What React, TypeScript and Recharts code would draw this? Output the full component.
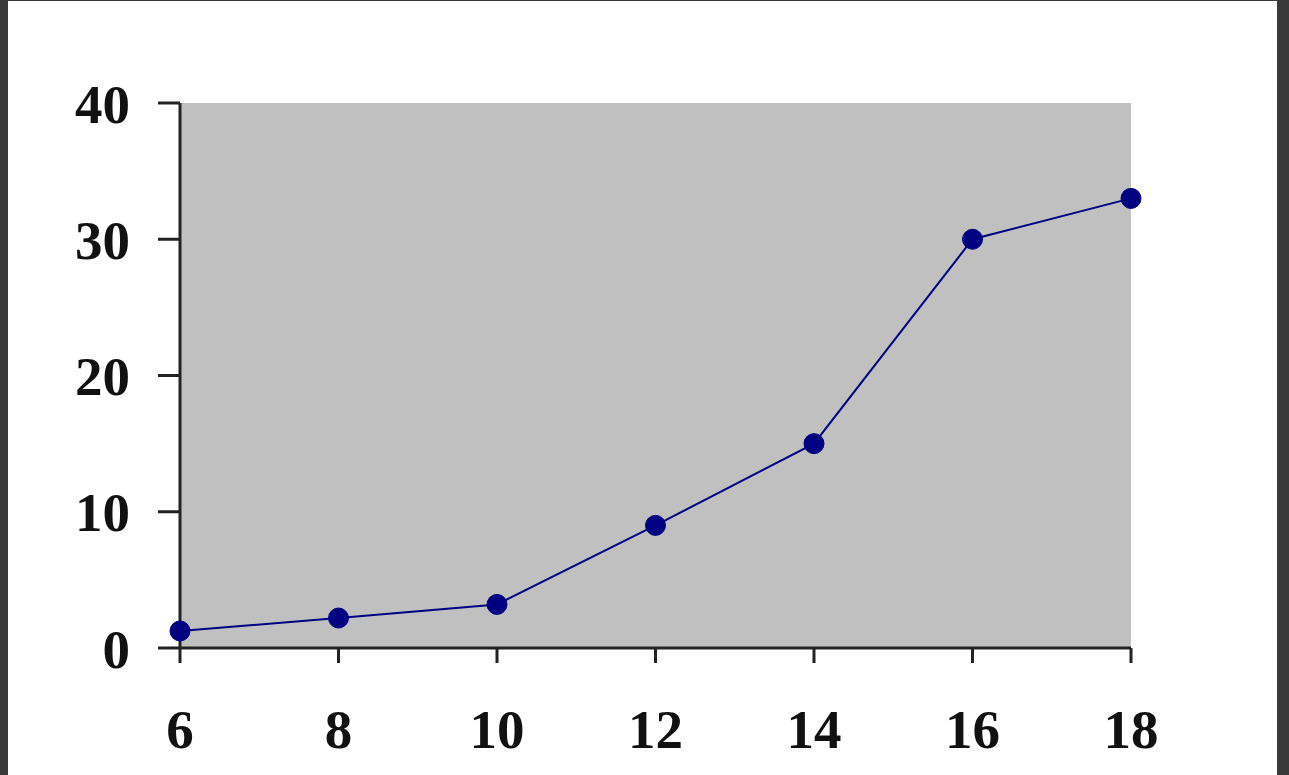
import { LineChart, Line, XAxis, YAxis, CartesianGrid } from "recharts";

const xValues = [6, 8, 10, 12, 14, 16, 18];
const yValues = [1.25, 2.2, 3.2, 9, 15, 30, 33];
const xTicks = [6, 8, 10, 12, 14, 16, 18];
const yTicks = [0, 10, 20, 30, 40];

const data = xValues.map((x, i) => ({ x, y: yValues[i] }));

const tickFont = {
  fontFamily: "'Liberation Serif', 'Times New Roman', serif",
  fontWeight: 700,
  fontSize: 55,
  fill: "#111",
};

const App = () => {
  return (
    <div
      style={{
        position: "absolute",
        left: 0,
        top: 0,
        width: 1289,
        height: 775,
        background: "#3a3a3a",
        overflow: "hidden",
      }}
    >
      <div
        style={{
          position: "absolute",
          left: 8,
          top: 1,
          width: 1269,
          height: 774,
          background: "#ffffff",
        }}
      >
        <LineChart
          width={1269}
          height={774}
          data={data}
          margin={{ top: 102, right: 146, bottom: 27, left: 72 }}
        >
          <CartesianGrid fill="#c0c0c0" horizontal={false} vertical={false} />
          <XAxis
            dataKey="x"
            type="number"
            domain={[6, 18]}
            ticks={xTicks}
            height={100}
            tickSize={15}
            tickMargin={46}
            stroke="#222"
            strokeWidth={3}
            tick={tickFont}
          />
          <YAxis
            type="number"
            domain={[0, 40]}
            ticks={yTicks}
            width={100}
            tickSize={22}
            tickMargin={28}
            stroke="#222"
            strokeWidth={3}
            tick={tickFont}
          />
          <Line
            dataKey="y"
            type="linear"
            stroke="#000080"
            strokeWidth={2}
            dot={{ r: 10, fill: "#000080", stroke: "#000080", strokeWidth: 1 }}
            isAnimationActive={false}
          />
        </LineChart>
      </div>
    </div>
  );
};

export default App;
